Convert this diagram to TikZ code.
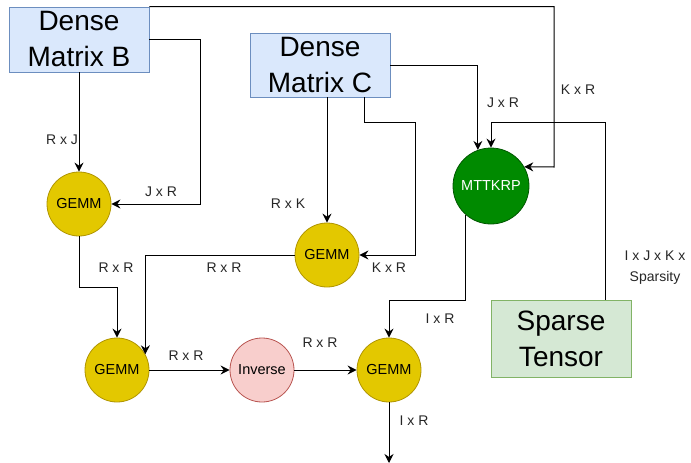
\documentclass[tikz,border=0pt]{standalone}
\usepackage{fontspec}
\setmainfont{Liberation Sans}
\usetikzlibrary{arrows.meta}
\definecolor{blueFill}{HTML}{DAE8FC}
\definecolor{blueLine}{HTML}{6C8EBF}
\definecolor{greenFill}{HTML}{D5E8D4}
\definecolor{greenLine}{HTML}{82B366}
\definecolor{gemmFill}{HTML}{E3C800}
\definecolor{gemmLine}{HTML}{B09500}
\definecolor{mttFill}{HTML}{008A00}
\definecolor{mttLine}{HTML}{005700}
\definecolor{invFill}{HTML}{F8CECC}
\definecolor{invLine}{HTML}{B85450}
\tikzset{
  databox/.style={draw, line width=0.8pt, align=center, inner sep=0pt,
    font=\fontsize{28}{36}\selectfont},
  opnode/.style={circle, draw, line width=0.8pt, minimum size=64pt, inner sep=0pt,
    font=\fontsize{14.5}{16}\selectfont},
  gemm/.style={opnode, fill=gemmFill, draw=gemmLine},
  lbl/.style={align=center, inner sep=0pt, font=\fontsize{14}{21}\selectfont, text=black!85},
  arr/.style={line width=1pt, -{Stealth[length=9pt,width=9pt,inset=3pt]}}
}
\begin{document}
\begin{tikzpicture}[x=1pt,y=-1pt]
    \useasboundingbox (0,0) rectangle (691,463);
    % inputs
    \node[databox, fill=blueFill, draw=blueLine, minimum width=140pt, minimum height=65pt] (B) at (79,39.5) {Dense\\Matrix B};
    \node[databox, fill=blueFill, draw=blueLine, minimum width=140pt, minimum height=64pt] (C) at (320,65) {Dense\\Matrix C};
    \node[databox, fill=greenFill, draw=greenLine, minimum width=140pt, minimum height=77pt] (T) at (561,338.5) {Sparse\\Tensor};
    % operations
    \node[opnode, minimum size=76pt, fill=mttFill, draw=mttLine, text=white] (M) at (491,186) {MTTKRP};
    \node[gemm] (G1) at (79,204) {GEMM};
    \node[gemm] (G2) at (327,255) {GEMM};
    \node[gemm] (G3) at (117,370) {GEMM};
    \node[opnode, fill=invFill, draw=invLine] (I) at (262,370) {Inverse};
    \node[gemm] (G4) at (389,370) {GEMM};
    \coordinate (out) at (389,463);
    % connectors
    \draw[arr] (B.south) -- (G1.north);
    \draw[arr] (B.east) -| (200,204) -- (G1.east);
    \draw[arr] (B.north east) -| (554,167) -- (M.30);
    \draw[arr] (G2.north |- C.south) -- (G2.north);
    \draw[arr] (C.south -| 364,0) -- (364,122) -| (415,255) -- (G2.east);
    \draw[arr] (C.east) -| (M.110);
    \draw[arr] (T.north -| 605,0) -- (605,122) -| (M.north);
    \draw[arr] (G1.south) -- (79,287) -| (G3.north);
    \draw[arr] (G2.west) -| (G3.29);
    \draw[arr] (M.229) -- (M.229 |- 0,300) -| (G4.north);
    \draw[arr] (G3.east) -- (I.west);
    \draw[arr] (I.east) -- (G4.west);
    \draw[arr] (G4.south) -- (out);
    % sizes
    \foreach \t/\p [count=\i] in {{R x J}/{62,140}, {J x R}/{161,192}, {K x R}/{578,90},
        {J x R}/{503,103}, {R x K}/{288,204}, {K x R}/{389,268}, {R x R}/{116,268},
        {R x R}/{224,268}, {R x R}/{186,356}, {R x R}/{320,343}, {I x R}/{440,319},
        {I x R}/{414,421}, {I x J x K x\\Sparsity}/{655,268}}
        \node[lbl] (l\i) at (\p) {\t};
\end{tikzpicture}
\end{document}
